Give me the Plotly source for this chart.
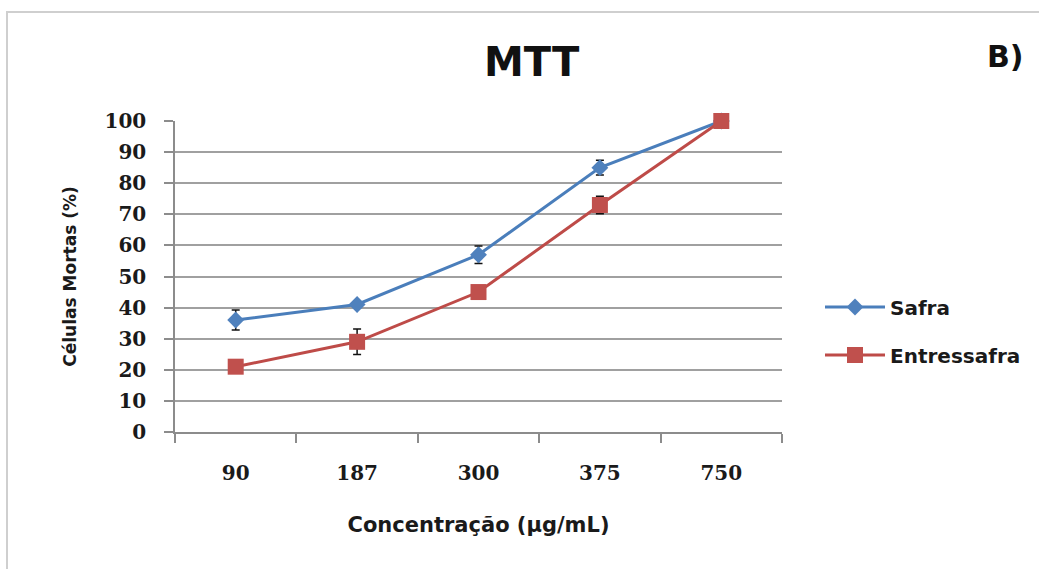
import plotly.graph_objects as go

# Concentrations tested and percentage of dead cells (MTT assay)
concentracoes = ["90", "187", "300", "375", "750"]
safra = [36, 41, 57, 85, 100]
safra_err = [3.2, 1.0, 2.8, 2.4, 0]
entressafra = [21, 29, 45, 73, 100]
entressafra_err = [1.0, 4.1, 1.0, 2.8, 0]
y_ticks = [0, 10, 20, 30, 40, 50, 60, 70, 80, 90, 100]

W, H = 1039, 569
L, R, T, B = 175, 257, 121, 137

blue_line, blue_mark = "#4A7EBB", "#4F81BD"
red_line, red_mark = "#BE4B48", "#C0504D"
sans = "DejaVu Sans"
serif = "DejaVu Serif"
ink = "#1a1a1a"

fig = go.Figure()

fig.add_trace(go.Scatter(
    x=concentracoes, y=safra, name="Safra", mode="lines+markers",
    line=dict(color=blue_line, width=3),
    marker=dict(symbol="diamond", size=13, color=blue_mark),
    error_y=dict(type="data", array=safra_err, visible=True,
                 color="#111111", thickness=1.5, width=4),
    cliponaxis=False, legend="legend",
))
fig.add_trace(go.Scatter(
    x=concentracoes, y=entressafra, name="Entressafra", mode="lines+markers",
    line=dict(color=red_line, width=3),
    marker=dict(symbol="square", size=16, color=red_mark),
    error_y=dict(type="data", array=entressafra_err, visible=True,
                 color="#111111", thickness=1.5, width=4),
    cliponaxis=False, legend="legend2",
))

def py(pix):
    """Pixel row -> paper y."""
    return (H - B - pix) / (H - T - B)

def px(pix):
    """Pixel column -> paper x."""
    return (pix - L) / (W - L - R)

legend_style = dict(
    xanchor="left", yanchor="middle", bgcolor="rgba(0,0,0,0)",
    font=dict(family=sans, size=20, color=ink, weight="bold"),
    itemwidth=60,
)

fig.update_layout(
    width=W, height=H,
    margin=dict(l=L, r=R, t=T, b=B, autoexpand=False),
    paper_bgcolor="white", plot_bgcolor="white",
    showlegend=True,
    legend=dict(x=px(820), y=py(307), **legend_style),
    legend2=dict(x=px(820), y=py(355), **legend_style),
    xaxis=dict(
        type="category", range=[-0.5, 4.5],
        showline=True, linecolor="#8c8c8c", linewidth=1.5,
        ticks="outside", tickson="boundaries", ticklen=9,
        tickcolor="#8c8c8c", tickwidth=1.5,
        showgrid=False, zeroline=False,
        tickfont=dict(family=serif, size=20, color=ink, weight="bold"),
        ticklabelstandoff=22,
        title=dict(text="Concentração (µg/mL)",
                   font=dict(family=sans, size=21, color=ink, weight="bold"),
                   standoff=34),
        automargin=False,
    ),
    yaxis=dict(
        range=[0, 100], tickvals=y_ticks,
        showline=True, linecolor="#8c8c8c", linewidth=1.5,
        ticks="outside", ticklen=9, tickcolor="#8c8c8c", tickwidth=1.5,
        showgrid=True, gridcolor="#a0a0a0", gridwidth=1.5,
        zeroline=False,
        tickfont=dict(family=serif, size=20, color=ink, weight="bold"),
        ticklabelstandoff=14,
        title=dict(text="Células Mortas (%)",
                   font=dict(family=sans, size=17, color=ink, weight="bold"),
                   standoff=24),
        automargin=False,
    ),
    annotations=[
        dict(text="MTT", xref="paper", yref="paper",
             x=px(532), y=py(62), xanchor="center", yanchor="middle",
             showarrow=False,
             font=dict(family=sans, size=40, color="#111111", weight="bold")),
        dict(text="B)", xref="paper", yref="paper",
             x=px(1005), y=py(56), xanchor="center", yanchor="middle",
             showarrow=False,
             font=dict(family=sans, size=30, color="#111111", weight="bold")),
    ],
    shapes=[
        dict(type="rect", xref="paper", yref="paper",
             x0=px(7), x1=px(1060), y0=py(600), y1=py(12),
             line=dict(color="#cfcfcf", width=2), layer="below"),
    ],
)

fig.write_html("out.html")
